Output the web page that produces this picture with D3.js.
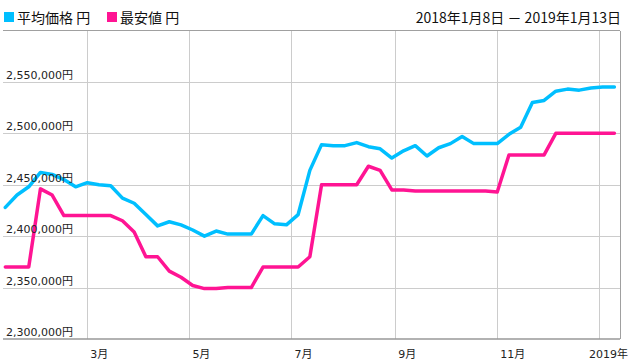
<!DOCTYPE html>
<meta charset="utf-8">
<style>
html, body {
  margin: 0;
  background: #fff;
}

.chart {
  display: block;
}

.chart .grid line {
  stroke: #cccccc;
  stroke-width: 1;
  shape-rendering: crispEdges;
}

.chart .frame {
  stroke: #a0a0a0;
  stroke-width: 1;
  shape-rendering: crispEdges;
}

.chart .axis-line {
  stroke: #999;
  stroke-width: 1.5;
}

.chart .tick-label {
  font-family: "DejaVu Sans", "Noto Sans CJK JP", sans-serif;
  font-size: 11px;
  fill: #222;
}

.chart .legend text,
.chart .period {
  font-family: "Noto Sans CJK JP", sans-serif;
  font-size: 14px;
  fill: #111;
}

.chart .series {
  fill: none;
  stroke-width: 3.5;
  stroke-linejoin: round;
  stroke-linecap: round;
}
</style>
<body>

<svg class="chart js-chart" width="629" height="364"></svg>

<script src="https://cdn.jsdelivr.net/npm/d3@7"></script>
<script type="text/javascript">
"use strict";

/* global d3 */

// weekly observation dates
var dates = [
  "2018-01-11", "2018-01-18", "2018-01-25", "2018-02-01", "2018-02-08", "2018-02-15",
  "2018-02-22", "2018-03-01", "2018-03-08", "2018-03-15", "2018-03-22", "2018-03-29",
  "2018-04-05", "2018-04-12", "2018-04-19", "2018-04-26", "2018-05-03", "2018-05-10",
  "2018-05-17", "2018-05-24", "2018-05-31", "2018-06-07", "2018-06-14", "2018-06-21",
  "2018-06-28", "2018-07-05", "2018-07-12", "2018-07-19", "2018-07-26", "2018-08-02",
  "2018-08-09", "2018-08-16", "2018-08-23", "2018-08-30", "2018-09-06", "2018-09-13",
  "2018-09-20", "2018-09-27", "2018-10-04", "2018-10-11", "2018-10-18", "2018-10-25",
  "2018-11-01", "2018-11-08", "2018-11-15", "2018-11-22", "2018-11-29", "2018-12-06",
  "2018-12-13", "2018-12-20", "2018-12-27", "2019-01-03", "2019-01-10"
];

// 平均価格 (yen)
var avgPrice = [
  2428000, 2440000, 2448000, 2462000, 2460000, 2455000, 2448000, 2452000, 2450000, 2449000,
  2437000, 2432000, 2421000, 2410000, 2414000, 2411000, 2406000, 2400000, 2405000, 2402000,
  2402000, 2402000, 2420000, 2412000, 2411000, 2421000, 2464000, 2489000, 2488000, 2488000,
  2491000, 2487000, 2485000, 2476000, 2483000, 2488000, 2478000, 2486000, 2490000, 2497000,
  2490000, 2490000, 2490000, 2499000, 2506000, 2530000, 2532000, 2541000, 2543000, 2542000,
  2544000, 2545000, 2545000
];

// 最安値 (yen)
var minPrice = [
  2370000, 2370000, 2370000, 2446000, 2440000, 2420000, 2420000, 2420000, 2420000, 2420000,
  2415000, 2404000, 2380000, 2380000, 2366000, 2360000, 2352000, 2349000, 2349000, 2350000,
  2350000, 2350000, 2370000, 2370000, 2370000, 2370000, 2380000, 2450000, 2450000, 2450000,
  2450000, 2468000, 2464000, 2445000, 2445000, 2444000, 2444000, 2444000, 2444000, 2444000,
  2444000, 2444000, 2443000, 2479000, 2479000, 2479000, 2479000, 2500000, 2500000, 2500000,
  2500000, 2500000, 2500000
];

var yTicks = [2300000, 2350000, 2400000, 2450000, 2500000, 2550000];
var seriesNames = ["平均価格 円", "最安値 円"];
var seriesColors = ["#00bfff", "#ff1493"];
var periodLabel = "2018年1月8日 － 2019年1月13日";

var parseDate = d3.timeParse("%Y-%m-%d");
var days = dates.map(parseDate);

var svg = d3.select(".js-chart");

var x = d3.scaleTime()
  .domain([new Date(2018, 0, 8), new Date(2019, 0, 13)])
  .range([0.3, 619.4]);

var y = d3.scaleLinear()
  .domain([2300000, 2600000])
  .range([339, 30.5]);

var plotLeft = 3, plotRight = 620;

// horizontal grid
var grid = svg.append("g").attr("class", "grid");
grid.selectAll(".h").data(yTicks.slice(1))
  .enter().append("line")
    .attr("class", "h")
    .attr("x1", plotLeft).attr("x2", plotRight)
    .attr("y1", function (d) { return Math.round(y(d)) + 0.5; })
    .attr("y2", function (d) { return Math.round(y(d)) + 0.5; });

// vertical grid, every other month
var monthTicks = x.ticks(d3.timeMonth.every(2));
grid.selectAll(".v").data(monthTicks)
  .enter().append("line")
    .attr("class", "v")
    .attr("x1", function (d) { return Math.round(x(d)) + 0.5; })
    .attr("x2", function (d) { return Math.round(x(d)) + 0.5; })
    .attr("y1", y(2600000)).attr("y2", y(2300000));

// frame: top and right
svg.append("line").attr("class", "frame")
  .attr("x1", plotLeft).attr("x2", plotRight)
  .attr("y1", 30.5).attr("y2", 30.5);
svg.append("line").attr("class", "frame")
  .attr("x1", plotRight + 0.5).attr("x2", plotRight + 0.5)
  .attr("y1", 30.5).attr("y2", y(2300000));

// series lines
var line = d3.line()
  .x(function (d, i) { return x(days[i]); })
  .y(function (d) { return y(d); });

svg.selectAll(".series").data([avgPrice, minPrice])
  .enter().append("path")
    .attr("class", "series")
    .attr("stroke", function (d, i) { return seriesColors[i]; })
    .attr("d", line);

// bottom axis line
svg.append("line").attr("class", "axis-line")
  .attr("x1", plotLeft).attr("x2", plotRight)
  .attr("y1", y(2300000)).attr("y2", y(2300000));

// y labels sit just above their grid line
var fmt = d3.format(",");
svg.selectAll(".y-label").data(yTicks)
  .enter().append("text")
    .attr("class", "tick-label y-label")
    .attr("x", 6)
    .attr("y", function (d) { return y(d) - 3; })
    .text(function (d) { return fmt(d) + "円"; });

// x labels
svg.selectAll(".x-label").data(monthTicks)
  .enter().append("text")
    .attr("class", "tick-label x-label")
    .attr("x", function (d) { return d.getMonth() === 0 ? 628 : x(d) + 3; })
    .attr("y", 358)
    .attr("text-anchor", function (d) { return d.getMonth() === 0 ? "end" : "start"; })
    .text(function (d) {
      return d.getMonth() === 0 ? d.getFullYear() + "年" : (d.getMonth() + 1) + "月";
    });

// legend
var legendX = [4, 107];
var legend = svg.append("g").attr("class", "legend")
  .selectAll("g").data(seriesNames)
  .enter().append("g")
    .attr("transform", function (d, i) { return "translate(" + legendX[i] + ",0)"; });

legend.append("rect")
  .attr("x", 0).attr("y", 12)
  .attr("width", 10).attr("height", 10)
  .attr("fill", function (d, i) { return seriesColors[i]; });

legend.append("text")
  .attr("x", 13).attr("y", 23)
  .text(String);

svg.append("text")
  .attr("class", "period")
  .attr("x", 621).attr("y", 23)
  .attr("text-anchor", "end")
  .text(periodLabel);
</script>
</body>
